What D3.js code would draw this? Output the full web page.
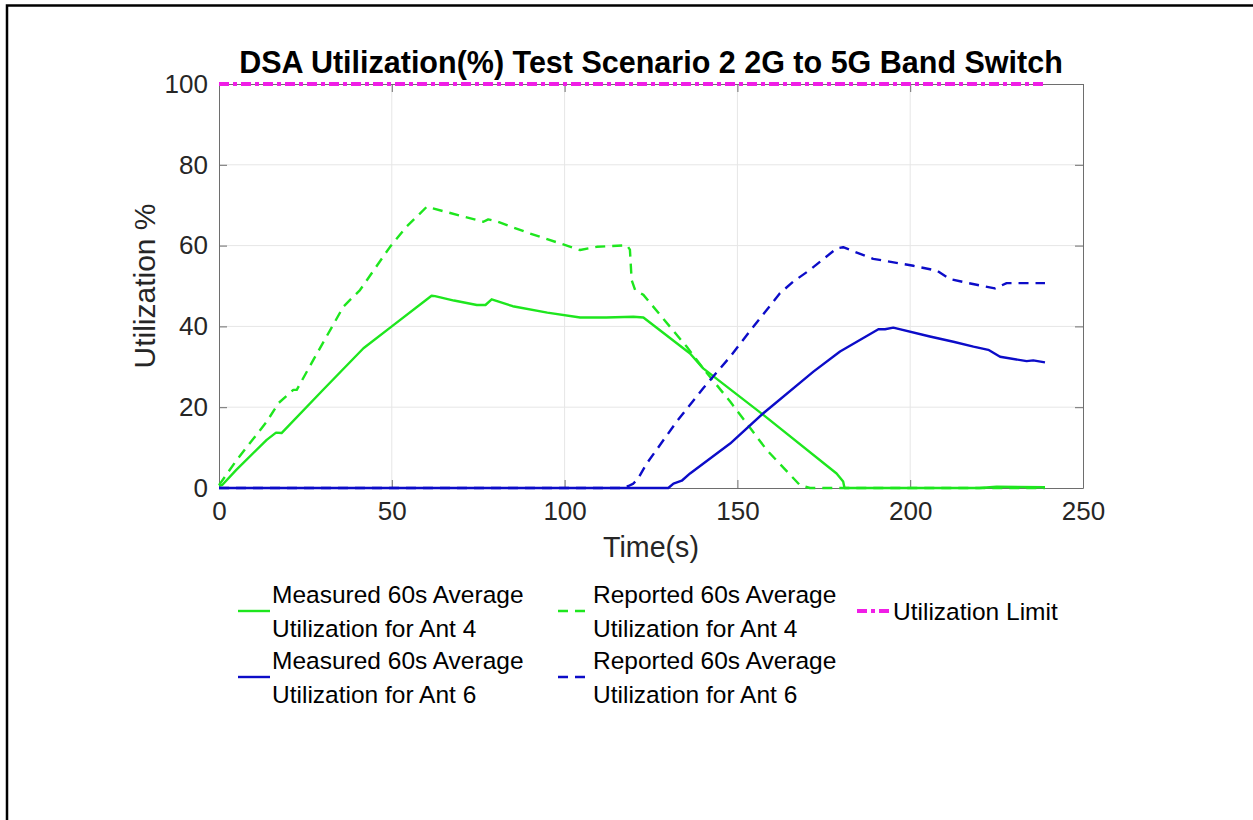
<!DOCTYPE html>
<html>
<head>
<meta charset="utf-8">
<script src="https://cdn.jsdelivr.net/npm/d3@7/dist/d3.min.js"></script>
<style>
  html, body { margin: 0; padding: 0; background: #fff; }
  svg { display: block; font-family: "Liberation Sans", Arial, Helvetica, sans-serif; }
</style>
</head>
<body>
<svg id="chart" width="1253" height="820"></svg>
<script>
// ---------------- data ----------------
const chartTitle = "DSA Utilization(%) Test Scenario 2 2G to 5G Band Switch";
const xLabel = "Time(s)";
const yLabel = "Utilization %";
const xTicks = [0, 50, 100, 150, 200, 250];
const yTicks = [0, 20, 40, 60, 80, 100];

const measured4T = [0, 1, 5, 13.8, 16.5, 18.1, 30, 41.8, 50, 61.5, 62.5, 68, 74.6, 77.1, 78.9, 85, 95, 104.5, 112, 119.9, 122.8, 136.3, 140.1, 157.5, 178.7, 180.6, 181, 200, 220, 225, 239];
const measured4V = [0.5, 0.8, 4.5, 11.9, 13.7, 13.6, 24.2, 34.6, 40.0, 47.6, 47.5, 46.4, 45.3, 45.3, 46.7, 45.0, 43.4, 42.2, 42.2, 42.4, 42.2, 33.3, 29.6, 18.1, 3.6, 1.6, 0, 0, 0, 0.3, 0.2];

const reported4T = [0, 5.1, 13.8, 17.2, 21.5, 22.5, 27.3, 36, 40.8, 49.5, 54.3, 60.1, 76.5, 77.9, 80.3, 90, 104.5, 109.3, 118, 118.9, 119.4, 120.4, 122.8, 135.3, 140.1, 147.9, 158.5, 168.1, 171, 200, 239];
const reported4V = [0.7, 6.9, 16.4, 21, 24.3, 24.3, 31.7, 44.9, 49, 59.7, 64.7, 69.6, 65.9, 66.5, 66, 63, 58.9, 59.7, 60.1, 59, 51.5, 49, 47.8, 35, 29.6, 21.4, 9.4, 0.7, 0, 0, 0];

const measured6T = [0, 130, 131.5, 133.9, 136.3, 147.9, 157.5, 172, 179.7, 190.8, 192.7, 195.1, 205.7, 212.5, 218.3, 222.6, 226, 233.7, 235.6, 239];
const measured6V = [0, 0, 1.1, 1.8, 3.6, 11, 18.5, 28.8, 33.8, 39.3, 39.3, 39.7, 37.5, 36.2, 35, 34.2, 32.5, 31.4, 31.6, 31.1];

const reported6T = [0, 117, 118.5, 119.9, 121.3, 123.8, 132.4, 140.1, 147.9, 154.6, 162.3, 166.2, 171, 178.7, 180.6, 189.3, 191.6, 200.9, 207.7, 211.5, 219.2, 224.5, 227.9, 239];
const reported6V = [0, 0, 0.5, 1.1, 2.4, 6.1, 16.4, 24.7, 32.5, 39.9, 48.2, 51.1, 54, 59.3, 59.6, 56.7, 56.4, 55, 53.8, 51.7, 50.3, 49.4, 50.7, 50.7];

const limitT = [0, 239];
const limitV = [100, 100];

const seriesNames = [
  ["Measured 60s Average", "Utilization for Ant 4"],
  ["Reported 60s Average", "Utilization for Ant 4"],
  ["Measured 60s Average", "Utilization for Ant 6"],
  ["Reported 60s Average", "Utilization for Ant 6"],
  ["Utilization Limit"]
];

// ---------------- styles ----------------
const GREEN = "#1ee61e", BLUE = "#0c0cc8", MAGENTA = "#f01ee6";
const series = [
  {t: measured4T, v: measured4V, color: GREEN, dash: null, w: 2.4, name: seriesNames[0]},
  {t: reported4T, v: reported4V, color: GREEN, dash: "10,7", w: 2.4, name: seriesNames[1]},
  {t: measured6T, v: measured6V, color: BLUE, dash: null, w: 2.4, name: seriesNames[2]},
  {t: reported6T, v: reported6V, color: BLUE, dash: "10,7", w: 2.4, name: seriesNames[3]},
  {t: limitT, v: limitV, color: MAGENTA, dash: "10,4,4,4", w: 4, name: seriesNames[4]}
];

const svg = d3.select("#chart");
svg.append("rect").attr("width", 1253).attr("height", 820).attr("fill", "#fff");

// page frame
svg.append("path").attr("d", "M7,820 L7,5.5 L1253,5.5")
  .attr("fill", "none").attr("stroke", "#000").attr("stroke-width", 2.5);

const L = 219, R = 1083, T = 84, B = 488;
const x = d3.scaleLinear().domain([0, 250]).range([L, R]);
const y = d3.scaleLinear().domain([0, 100]).range([B, T]);

// grid
const g = svg.append("g");
g.selectAll(".gx").data(xTicks.slice(1, -1)).join("line")
  .attr("x1", d => x(d)).attr("x2", d => x(d)).attr("y1", T).attr("y2", B)
  .attr("stroke", "#e6e6e6").attr("stroke-width", 1);
g.selectAll(".gy").data(yTicks.slice(1, -1)).join("line")
  .attr("x1", L).attr("x2", R).attr("y1", d => y(d)).attr("y2", d => y(d))
  .attr("stroke", "#e6e6e6").attr("stroke-width", 1);

// axes
const axisColor = "#6e6e6e";
const tickFont = 26;
function styleAxis(sel) {
  sel.select(".domain").attr("stroke", axisColor);
  sel.selectAll(".tick line").attr("stroke", axisColor);
  sel.selectAll("text").attr("fill", "#262626").attr("font-size", tickFont)
    .attr("font-family", "'Liberation Sans', Arial, Helvetica, sans-serif");
}
const xAxis = svg.append("g").attr("transform", `translate(0,${B})`)
  .call(d3.axisBottom(x).tickValues(xTicks).tickSize(-8).tickPadding(14).tickSizeOuter(0).tickFormat(d3.format("d")));
styleAxis(xAxis);
const xAxisTop = svg.append("g").attr("transform", `translate(0,${T})`)
  .call(d3.axisTop(x).tickValues(xTicks).tickSize(-8).tickSizeOuter(0).tickFormat(""));
styleAxis(xAxisTop);
const yAxis = svg.append("g").attr("transform", `translate(${L},0)`)
  .call(d3.axisLeft(y).tickValues(yTicks).tickSize(-8).tickPadding(11).tickSizeOuter(0).tickFormat(d3.format("d")));
styleAxis(yAxis);
const yAxisR = svg.append("g").attr("transform", `translate(${R},0)`)
  .call(d3.axisRight(y).tickValues(yTicks).tickSize(-8).tickSizeOuter(0).tickFormat(""));
styleAxis(yAxisR);

// data lines
const line = d3.line().x(d => x(d[0])).y(d => y(d[1]));
series.forEach(s => {
  const pts = s.t.map((t, i) => [t, s.v[i]]);
  svg.append("path").datum(pts).attr("d", line)
    .attr("fill", "none").attr("stroke", s.color).attr("stroke-width", s.w)
    .attr("stroke-linejoin", "round")
    .attr("stroke-dasharray", s.dash);
});

// title and labels
svg.append("text").attr("x", (L + R) / 2).attr("y", 73).attr("text-anchor", "middle")
  .attr("font-size", 30.5).attr("font-weight", "bold").attr("fill", "#000").text(chartTitle);
svg.append("text").attr("x", (L + R) / 2).attr("y", 557).attr("text-anchor", "middle")
  .attr("font-size", 28.6).attr("fill", "#262626").text(xLabel);
svg.append("text").attr("transform", `translate(155,${(T + B) / 2}) rotate(-90)`).attr("text-anchor", "middle")
  .attr("font-size", 30).attr("fill", "#262626").text(yLabel);

// legend
const legFont = 24.5;
const legendItems = [
  {s: series[0], lx: 238, tx: 272, cy: 611},
  {s: series[2], lx: 238, tx: 272, cy: 677},
  {s: series[1], lx: 558, tx: 593, cy: 611},
  {s: series[3], lx: 558, tx: 593, cy: 677},
  {s: series[4], lx: 857, tx: 893, cy: 611}
];
const leg = svg.append("g");
legendItems.forEach(it => {
  leg.append("line").attr("x1", it.lx).attr("x2", it.lx + 32).attr("y1", it.cy).attr("y2", it.cy)
    .attr("stroke", it.s.color).attr("stroke-width", it.s.w).attr("stroke-dasharray", it.s.dash);
  const n = it.s.name.length;
  it.s.name.forEach((txt, i) => {
    const cy = it.cy + (i - (n - 1) / 2) * 34;
    leg.append("text").attr("x", it.tx).attr("y", cy + legFont * 0.35)
      .attr("font-size", legFont).attr("fill", "#000").text(txt);
  });
});
</script>
</body>
</html>
